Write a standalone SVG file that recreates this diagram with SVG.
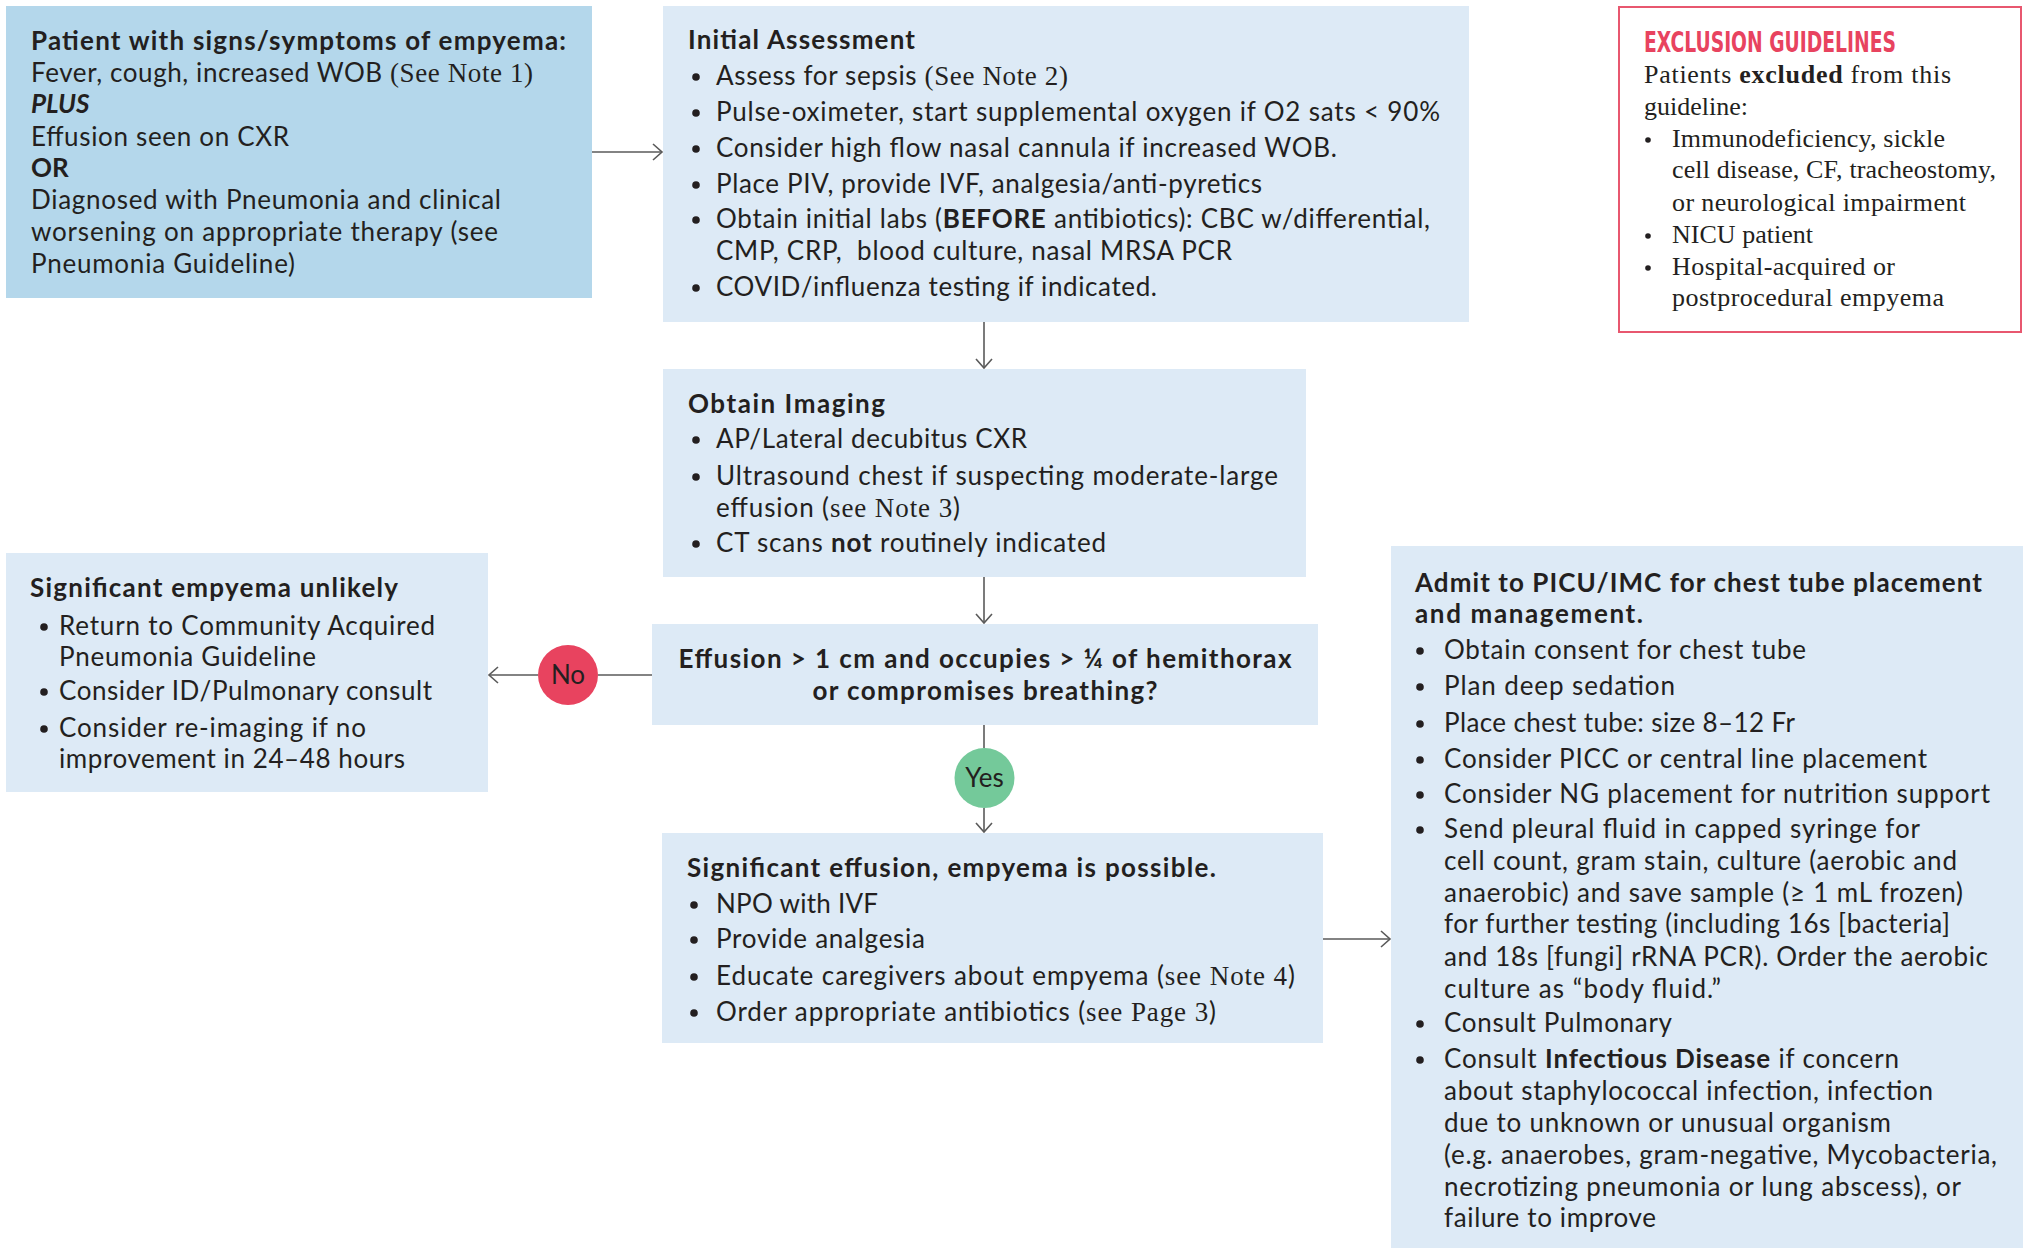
<svg xmlns="http://www.w3.org/2000/svg" width="2023" height="1248" viewBox="0 0 2023 1248">
<defs>
<style>
.t{font-family:Lato,"Noto Sans","Liberation Sans",sans-serif;font-size:26px;fill:#231f20}
.b{font-weight:bold}
.s{font-family:"Liberation Serif","DejaVu Serif",serif;font-size:27px}
.ex{font-family:"Liberation Serif","DejaVu Serif",serif;font-size:26px;fill:#231f20}
.ttl{font-family:"Liberation Sans Narrow","DejaVu Sans Condensed","Liberation Sans",sans-serif;font-weight:bold;font-size:29px;fill:#e8435f}
.dark{fill:#b4d7eb}
.lite{fill:#ddeaf6}
.bul{fill:#231f20}
.conn{stroke:#5a5a5a;stroke-width:1.6;fill:none}
</style>
<marker id="ah" markerWidth="12" markerHeight="18" refX="10" refY="9" orient="auto" markerUnits="userSpaceOnUse">
<path d="M1,1 L10,9 L1,17" fill="none" stroke="#5a5a5a" stroke-width="1.6"/>
</marker>
</defs>
<rect width="2023" height="1248" fill="#ffffff"/>

<g id="connectors">
<line class="conn" x1="592" y1="152" x2="662" y2="152" marker-end="url(#ah)"/>
<line class="conn" x1="984" y1="322" x2="984" y2="368" marker-end="url(#ah)"/>
<line class="conn" x1="984" y1="577" x2="984" y2="623" marker-end="url(#ah)"/>
<line class="conn" x1="652" y1="675" x2="598" y2="675"/>
<line class="conn" x1="538" y1="675" x2="489" y2="675" marker-end="url(#ah)"/>
<line class="conn" x1="984" y1="725" x2="984" y2="748"/>
<line class="conn" x1="984" y1="808" x2="984" y2="832" marker-end="url(#ah)"/>
<line class="conn" x1="1323" y1="939" x2="1390" y2="939" marker-end="url(#ah)"/>
</g>

<g id="node-patient">
<rect class="dark" x="6" y="6" width="586" height="292"/>
<text class="t b" x="31" y="50" textLength="535">Patient with signs/symptoms of empyema:</text>
<text class="t" x="31" y="82" textLength="502">Fever, cough, increased WOB <tspan class="s">(See Note 1)</tspan></text>
<text class="t b" x="31" y="113" font-style="italic">PLUS</text>
<text class="t" x="31" y="146" textLength="258">Effusion seen on CXR</text>
<text class="t b" x="31" y="177">OR</text>
<text class="t" x="31" y="209" textLength="470">Diagnosed with Pneumonia and clinical</text>
<text class="t" x="31" y="241" textLength="467">worsening on appropriate therapy (see</text>
<text class="t" x="31" y="273" textLength="264">Pneumonia Guideline)</text>
</g>

<g id="node-initial">
<rect class="lite" x="663" y="6" width="806" height="316"/>
<text class="t b" x="688" y="49" textLength="227">Initial Assessment</text>
<circle class="bul" cx="696" cy="77" r="3.8"/>
<text class="t" x="716" y="85" textLength="352">Assess for sepsis <tspan class="s">(See Note 2)</tspan></text>
<circle class="bul" cx="696" cy="113" r="3.8"/>
<text class="t" x="716" y="121" textLength="724">Pulse-oximeter, start supplemental oxygen if O2 sats &lt; 90%</text>
<circle class="bul" cx="696" cy="149" r="3.8"/>
<text class="t" x="716" y="157" textLength="621">Consider high flow nasal cannula if increased WOB.</text>
<circle class="bul" cx="696" cy="185" r="3.8"/>
<text class="t" x="716" y="193" textLength="546">Place PIV, provide IVF, analgesia/anti-pyretics</text>
<circle class="bul" cx="696" cy="220" r="3.8"/>
<text class="t" x="716" y="228" textLength="714">Obtain initial labs (<tspan class="b">BEFORE</tspan> antibiotics): CBC w/differential,</text>
<text class="t" x="716" y="260" textLength="516" xml:space="preserve">CMP, CRP,  blood culture, nasal MRSA PCR</text>
<circle class="bul" cx="696" cy="288" r="3.8"/>
<text class="t" x="716" y="296" textLength="441">COVID/influenza testing if indicated.</text>
</g>

<g id="node-exclusion">
<rect x="1619" y="7" width="402" height="325" fill="#ffffff" stroke="#e8576f" stroke-width="2"/>
<text class="ttl" x="1644" y="52" textLength="252" lengthAdjust="spacingAndGlyphs">EXCLUSION GUIDELINES</text>
<text class="ex" x="1644" y="83" textLength="307">Patients <tspan font-weight="bold">excluded</tspan> from this</text>
<text class="ex" x="1644" y="115" textLength="104">guideline:</text>
<circle class="bul" cx="1648" cy="140" r="2.8"/>
<text class="ex" x="1672" y="147" textLength="273">Immunodeficiency, sickle</text>
<text class="ex" x="1672" y="178" textLength="324">cell disease, CF, tracheostomy,</text>
<text class="ex" x="1672" y="211" textLength="294">or neurological impairment</text>
<circle class="bul" cx="1648" cy="236" r="2.8"/>
<text class="ex" x="1672" y="243" textLength="141">NICU patient</text>
<circle class="bul" cx="1648" cy="268" r="2.8"/>
<text class="ex" x="1672" y="275" textLength="223">Hospital-acquired or</text>
<text class="ex" x="1672" y="306" textLength="272">postprocedural empyema</text>
</g>

<g id="node-imaging">
<rect class="lite" x="663" y="369" width="643" height="208"/>
<text class="t b" x="688" y="413" textLength="197">Obtain Imaging</text>
<circle class="bul" cx="696" cy="440" r="3.8"/>
<text class="t" x="716" y="448" textLength="311">AP/Lateral decubitus CXR</text>
<circle class="bul" cx="696" cy="477" r="3.8"/>
<text class="t" x="716" y="485" textLength="562">Ultrasound chest if suspecting moderate-large</text>
<text class="t" x="716" y="517" textLength="244">effusion (<tspan class="s">see Note 3</tspan>)</text>
<circle class="bul" cx="696" cy="544" r="3.8"/>
<text class="t" x="716" y="552" textLength="390">CT scans <tspan class="b">not</tspan> routinely indicated</text>
</g>

<g id="node-decision">
<rect class="lite" x="652" y="624" width="666" height="101"/>
<text class="t b" x="985" y="668" text-anchor="middle" textLength="613">Effusion &gt; 1 cm and occupies &gt; ¼ of hemithorax</text>
<text class="t b" x="985" y="700" text-anchor="middle" textLength="345">or compromises breathing?</text>
</g>

<g id="node-no">
<circle cx="568" cy="675" r="30" fill="#e8435f"/>
<text class="t" x="568" y="684" text-anchor="middle" font-size="27">No</text>
</g>

<g id="node-yes">
<circle cx="984.5" cy="778" r="30" fill="#74c99a"/>
<text class="t" x="984.5" y="787" text-anchor="middle" font-size="26">Yes</text>
</g>

<g id="node-unlikely">
<rect class="lite" x="6" y="553" width="482" height="239"/>
<text class="t b" x="30" y="597" textLength="368">Significant empyema unlikely</text>
<circle class="bul" cx="44" cy="627" r="3.8"/>
<text class="t" x="59" y="635" textLength="376">Return to Community Acquired</text>
<text class="t" x="59" y="666" textLength="257">Pneumonia Guideline</text>
<circle class="bul" cx="44" cy="692" r="3.8"/>
<text class="t" x="59" y="700" textLength="373">Consider ID/Pulmonary consult</text>
<circle class="bul" cx="44" cy="729" r="3.8"/>
<text class="t" x="59" y="737" textLength="307">Consider re-imaging if no</text>
<text class="t" x="59" y="768" textLength="346">improvement in 24–48 hours</text>
</g>

<g id="node-possible">
<rect class="lite" x="662" y="833" width="661" height="210"/>
<text class="t b" x="687" y="877" textLength="529">Significant effusion, empyema is possible.</text>
<circle class="bul" cx="694" cy="905" r="3.8"/>
<text class="t" x="716" y="913" textLength="162">NPO with IVF</text>
<circle class="bul" cx="694" cy="940" r="3.8"/>
<text class="t" x="716" y="948" textLength="209">Provide analgesia</text>
<circle class="bul" cx="694" cy="977" r="3.8"/>
<text class="t" x="716" y="985" textLength="579">Educate caregivers about empyema (<tspan class="s">see Note 4</tspan>)</text>
<circle class="bul" cx="694" cy="1013" r="3.8"/>
<text class="t" x="716" y="1021" textLength="500">Order appropriate antibiotics (<tspan class="s">see Page 3</tspan>)</text>
</g>

<g id="node-admit">
<rect class="lite" x="1391" y="546" width="632" height="702"/>
<text class="t b" x="1415" y="592" textLength="567">Admit to PICU/IMC for chest tube placement</text>
<text class="t b" x="1415" y="623" textLength="228">and management.</text>
<circle class="bul" cx="1420" cy="651" r="3.8"/>
<text class="t" x="1444" y="659" textLength="362">Obtain consent for chest tube</text>
<circle class="bul" cx="1420" cy="687" r="3.8"/>
<text class="t" x="1444" y="695" textLength="231">Plan deep sedation</text>
<circle class="bul" cx="1420" cy="724" r="3.8"/>
<text class="t" x="1444" y="732" textLength="351">Place chest tube: size 8–12 Fr</text>
<circle class="bul" cx="1420" cy="760" r="3.8"/>
<text class="t" x="1444" y="768" textLength="483">Consider PICC or central line placement</text>
<circle class="bul" cx="1420" cy="795" r="3.8"/>
<text class="t" x="1444" y="803" textLength="546">Consider NG placement for nutrition support</text>
<circle class="bul" cx="1420" cy="830" r="3.8"/>
<text class="t" x="1444" y="838" textLength="476">Send pleural fluid in capped syringe for</text>
<text class="t" x="1444" y="870" textLength="513">cell count, gram stain, culture (aerobic and</text>
<text class="t" x="1444" y="902" textLength="519">anaerobic) and save sample (≥ 1 mL frozen)</text>
<text class="t" x="1444" y="933" textLength="506">for further testing (including 16s [bacteria]</text>
<text class="t" x="1444" y="966" textLength="544">and 18s [fungi] rRNA PCR). Order the aerobic</text>
<text class="t" x="1444" y="998" textLength="277">culture as “body fluid.”</text>
<circle class="bul" cx="1420" cy="1024" r="3.8"/>
<text class="t" x="1444" y="1032" textLength="228">Consult Pulmonary</text>
<circle class="bul" cx="1420" cy="1060" r="3.8"/>
<text class="t" x="1444" y="1068" textLength="455">Consult <tspan class="b">Infectious Disease</tspan> if concern</text>
<text class="t" x="1444" y="1100" textLength="489">about staphylococcal infection, infection</text>
<text class="t" x="1444" y="1132" textLength="447">due to unknown or unusual organism</text>
<text class="t" x="1444" y="1164" textLength="553">(e.g. anaerobes, gram-negative, Mycobacteria,</text>
<text class="t" x="1444" y="1196" textLength="517">necrotizing pneumonia or lung abscess), or</text>
<text class="t" x="1444" y="1227" textLength="212">failure to improve</text>
</g>
</svg>
